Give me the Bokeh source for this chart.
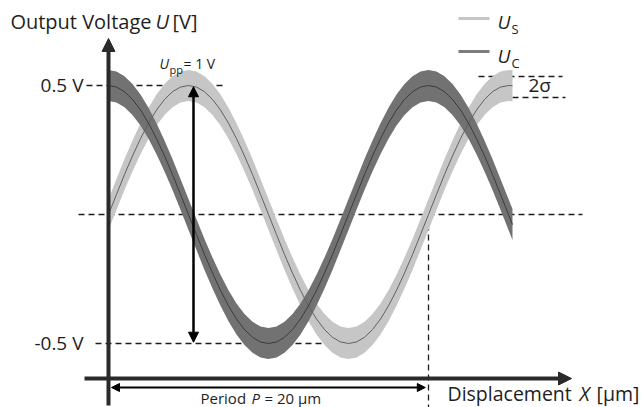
from bokeh.plotting import figure
from bokeh.models import Range1d, Arrow, NormalHead
from bokeh.core.properties import value
from bokeh.embed import file_html
from bokeh.resources import INLINE

# ---------------- data ----------------
x_um = [0.0, 0.5, 1.0, 1.5, 2.0, 2.5, 3.0, 3.5, 4.0, 4.5,
        5.0, 5.5, 6.0, 6.5, 7.0, 7.5, 8.0, 8.5, 9.0, 9.5,
        10.0, 10.5, 11.0, 11.5, 12.0, 12.5, 13.0, 13.5, 14.0, 14.5,
        15.0, 15.5, 16.0, 16.5, 17.0, 17.5, 18.0, 18.5, 19.0, 19.5,
        20.0, 20.5, 21.0, 21.5, 22.0, 22.5, 23.0, 23.5, 24.0, 24.5,
        25.0, 25.25]
u_s = [0.0, 0.078, 0.155, 0.227, 0.294, 0.354, 0.405, 0.446, 0.476, 0.494,
       0.5, 0.494, 0.476, 0.446, 0.405, 0.354, 0.294, 0.227, 0.155, 0.078,
       0.0, -0.078, -0.155, -0.227, -0.294, -0.354, -0.405, -0.446, -0.476, -0.494,
       -0.5, -0.494, -0.476, -0.446, -0.405, -0.354, -0.294, -0.227, -0.155, -0.078,
       0.0, 0.078, 0.155, 0.227, 0.294, 0.354, 0.405, 0.446, 0.476, 0.494,
       0.5, 0.499]
u_c = [0.5, 0.494, 0.476, 0.446, 0.405, 0.354, 0.294, 0.227, 0.155, 0.078,
       0.0, -0.078, -0.155, -0.227, -0.294, -0.354, -0.405, -0.446, -0.476, -0.494,
       -0.5, -0.494, -0.476, -0.446, -0.405, -0.354, -0.294, -0.227, -0.155, -0.078,
       0.0, 0.078, 0.155, 0.227, 0.294, 0.354, 0.405, 0.446, 0.476, 0.494,
       0.5, 0.494, 0.476, 0.446, 0.405, 0.354, 0.294, 0.227, 0.155, 0.078,
       0.0, -0.039]
noise_halfwidth = 0.060   # visible half-width of the noisy band [V]
amplitude = 0.5           # V
period = 20.0             # µm
tick_labels = ["0.5 V", "-0.5 V"]

# ---------------- layout helpers (picture px -> data) ----------------
X0_PX, PX_PER_UM = 108.0, 16.0
Y0_PX, PX_PER_V = 214.0, 258.0
def X(px):
    return (px - X0_PX) / PX_PER_UM
def Y(py):
    return (Y0_PX - py) / PX_PER_V

W, H = 643, 407
p = figure(width=W, height=H, output_backend="svg", toolbar_location=None,
           x_range=Range1d(X(0), X(W)), y_range=Range1d(Y(H), Y(0)),
           min_border=0, x_axis_location=None, y_axis_location=None)
p.grid.visible = False
p.outline_line_color = None
p.background_fill_color = "white"

FONT = value("Open Sans")
INK = "#1e1e1e"
AXIS = "#2a2a2a"
LIGHT = "#c6c6c6"
DARK = "#727272"

def txt(px, base_py, s, size, italic=False, align="left"):
    # place by baseline (converted to the vertical middle of the text box)
    mid = base_py - 0.39 * size
    p.text(x=[X(px)], y=[Y(mid)], text=[s], text_font=FONT,
           text_font_size=f"{size}px", text_color=INK,
           text_font_style="italic" if italic else "normal",
           text_align=align, text_baseline="middle")

# ---------------- dashed guide lines ----------------
dash = dict(line_color=INK, line_width=1.3, line_dash="6 4")
p.segment(x0=[X(86)], y0=[amplitude], x1=[X(222)], y1=[amplitude], **dash)
p.segment(x0=[X(95)], y0=[-amplitude], x1=[X(370)], y1=[-amplitude], **dash)
p.segment(x0=[X(78)], y0=[0], x1=[X(582)], y1=[0], **dash)
p.segment(x0=[period], y0=[0], x1=[period], y1=[Y(407)], **dash)
p.segment(x0=[X(478)], y0=[Y(76)], x1=[X(562)], y1=[Y(76)], **dash)
p.segment(x0=[X(482)], y0=[Y(97)], x1=[X(565)], y1=[Y(97)], **dash)

# ---------------- noisy bands ----------------
p.varea(x=x_um, y1=[v - noise_halfwidth for v in u_s],
        y2=[v + noise_halfwidth for v in u_s], fill_color=LIGHT)
p.varea(x=x_um, y1=[v - noise_halfwidth for v in u_c],
        y2=[v + noise_halfwidth for v in u_c], fill_color=DARK)
p.line(x_um, u_s, line_color="#606060", line_width=1)
p.line(x_um, u_c, line_color="#3c3c3c", line_width=1)

# ---------------- axes with arrow heads ----------------
p.add_layout(Arrow(end=NormalHead(size=13, fill_color=AXIS, line_color=AXIS),
                   x_start=0, y_start=Y(405), x_end=0, y_end=Y(38),
                   line_color=AXIS, line_width=4))
p.add_layout(Arrow(end=NormalHead(size=13, fill_color=AXIS, line_color=AXIS),
                   x_start=X(84), y_start=Y(378), x_end=X(571), y_end=Y(378),
                   line_color=AXIS, line_width=4))

# period arrow
p.add_layout(Arrow(start=NormalHead(size=8, fill_color="black", line_color="black"),
                   end=NormalHead(size=8, fill_color="black", line_color="black"),
                   x_start=X(111), y_start=Y(387), x_end=period - 0.2, y_end=Y(387),
                   line_color="black", line_width=2))
# Upp arrow
p.add_layout(Arrow(start=NormalHead(size=10, fill_color="black", line_color="black"),
                   end=NormalHead(size=10, fill_color="black", line_color="black"),
                   x_start=X(193), y_start=amplitude - 0.005, x_end=X(193), y_end=-amplitude + 0.005,
                   line_color="black", line_width=2.5))

# ---------------- legend ----------------
p.segment(x0=[X(458)], y0=[Y(18)], x1=[X(489)], y1=[Y(18)], line_color=LIGHT, line_width=3)
p.segment(x0=[X(458)], y0=[Y(51)], x1=[X(489)], y1=[Y(51)], line_color="#7c7c7c", line_width=3)
txt(497, 29, "U", 19, italic=True)
txt(511, 34, "S", 13)
txt(497, 63, "U", 19, italic=True)
txt(511, 68, "C", 13)

# ---------------- texts ----------------
txt(151, 29, "Output Voltage", 20, align="right")
txt(155, 29, "U", 20, italic=True)
txt(172, 29, "[V]", 20)
txt(83, 92, tick_labels[0], 19, align="right")
txt(83, 350, tick_labels[1], 19, align="right")
txt(159, 68, "U", 14, italic=True)
txt(169, 73, "pp", 11)
txt(183, 68, "= 1 V", 14)
txt(528, 92, "2σ", 19)
txt(200, 403, "Period", 15)
txt(251, 403, "P", 15, italic=True)
txt(264, 403, "= 20 µm", 15)
txt(447, 401, "Displacement", 19.5)
txt(579, 401, "X", 19.5, italic=True)
txt(596, 401, "[µm]", 19.5)

open("out.html", "w").write(file_html(p, INLINE))
